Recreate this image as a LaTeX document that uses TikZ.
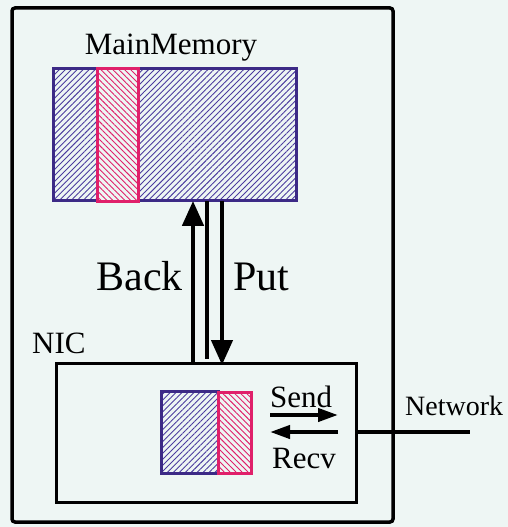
\documentclass[tikz,border=0pt]{standalone}
\usepackage{fontspec}
\setmainfont{Liberation Serif}
\usetikzlibrary{arrows.meta,patterns.meta}
\definecolor{bgc}{HTML}{EEF6F4}
\definecolor{memc}{HTML}{3C2A86}
\definecolor{hatchc}{HTML}{4B3C9E}
\definecolor{pinkc}{HTML}{E0206A}
\tikzset{
  box/.style={draw=black, line width=3.5pt, inner sep=0pt},
  membox/.style={draw=memc, line width=3pt, inner sep=0pt, preaction={fill=bgc},
    pattern={Lines[angle=45,distance=4.2pt,line width=0.9pt]}, pattern color=hatchc},
  pinkbox/.style={draw=pinkc, line width=3pt, inner sep=0pt, preaction={fill=bgc},
    pattern={Lines[angle=-45,distance=4.2pt,line width=0.9pt]}, pattern color=pinkc},
  bigarrow/.style={line width=4.5pt, -{Triangle[width=21pt,length=25pt]}},
  smallarrow/.style={line width=4pt, -{Triangle[width=13pt,length=20pt]}},
  plainline/.style={line width=4pt},
  lbl/.style={inner sep=0pt, font=\fontsize{31}{31}\selectfont},
  biglbl/.style={inner sep=0pt, font=\fontsize{42}{42}\selectfont},
}
\begin{document}
\begin{tikzpicture}[x=1pt,y=-1pt]
\fill[bgc] (0,0) rectangle (508,527);
\useasboundingbox (0,0) rectangle (508,527);
% outer box
\draw[box, rounded corners=3pt] (12,8) rectangle (393,522);
% main memory
\node[membox, minimum width=243pt, minimum height=132pt, anchor=north west] (mem) at (53,68) {};
\node[pinkbox, minimum width=41pt, minimum height=133pt, anchor=north west] (strip) at (97,68) {};
\node[lbl, anchor=base] (memlbl) at (171,55) {MainMemory};
% NIC box
\node[draw=black, line width=3pt, inner sep=0pt, minimum width=300pt, minimum height=139pt, anchor=north west] (nic) at (55,362) {};
\node[lbl, anchor=base west] (niclbl) at (32,353) {NIC};
% NIC memory
\node[membox, minimum width=57pt, minimum height=82pt, anchor=north west] (nicmem) at (160,390) {};
\node[pinkbox, minimum width=33pt, minimum height=81pt, anchor=north west] (nicstrip) at (217,391) {};
% vertical transfers
\coordinate (bx) at (193,0);
\coordinate (mx) at (207,0);
\coordinate (px) at (222,0);
\draw[bigarrow] (nic.north -| bx) -- (mem.south -| bx);
\draw[plainline] (mem.south -| mx) -- ([yshift=3pt]nic.north -| mx);
\draw[bigarrow] (mem.south -| px) -- ([yshift=-3pt]nic.north -| px);
\node[biglbl, anchor=base east] (back) at (183,290) {Back};
\node[biglbl, anchor=base west] (put) at (233,290) {Put};
% send / recv
\coordinate (sl) at (270,415);
\coordinate (sr) at (338,415);
\coordinate (rl) at (270,432);
\coordinate (rr) at (338,432);
\draw[smallarrow] (sl) -- (sr);
\draw[smallarrow] (rr) -- (rl);
\node[lbl, anchor=base west] (send) at (270,407) {Send};
\node[lbl, anchor=base west] (recv) at (272,468) {Recv};
% network
\coordinate (netend) at (470,432);
\draw[plainline] (nic.east |- netend) -- (netend);
\node[inner sep=0pt, font=\fontsize{28}{28}\selectfont, anchor=base west] (netlbl) at (405,415) {Network};
\end{tikzpicture}
\end{document}
